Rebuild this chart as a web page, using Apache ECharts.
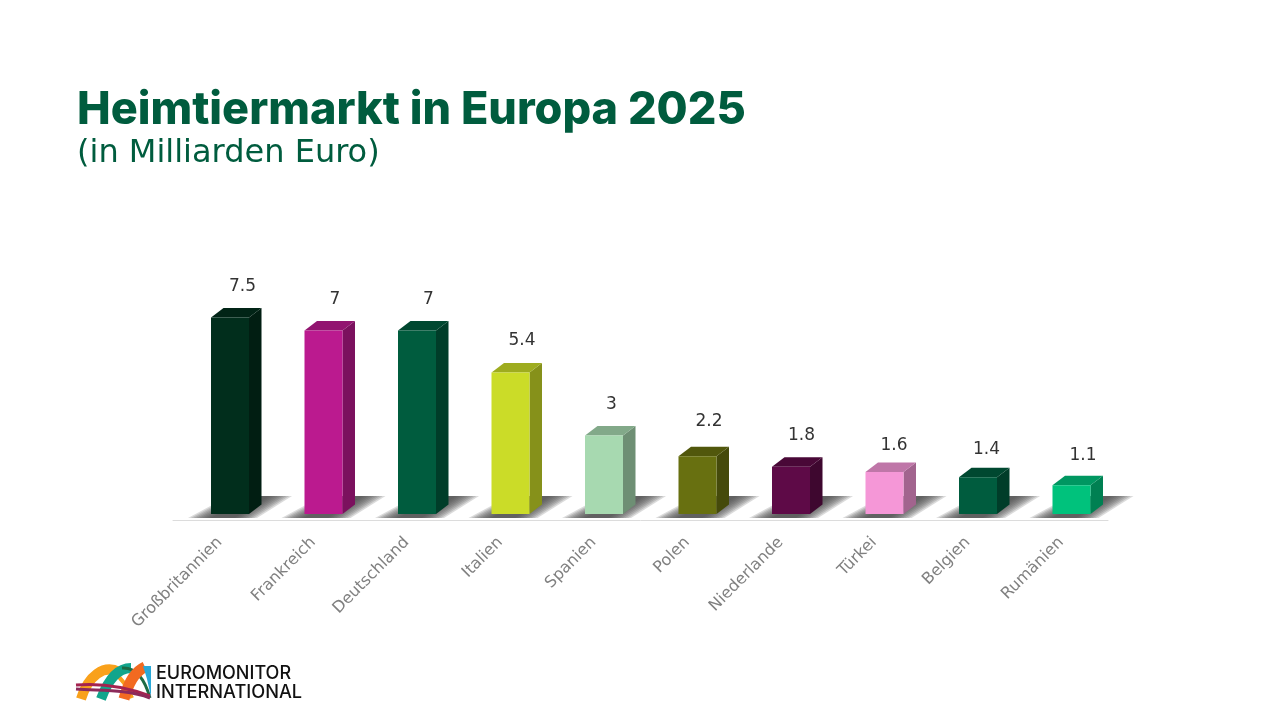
<!DOCTYPE html>
<html><head><meta charset="utf-8">
<style>html,body{margin:0;padding:0;background:#fff}#c{width:1280px;height:720px}</style>
<script src="https://cdn.jsdelivr.net/npm/echarts@6/dist/echarts.min.js"></script>
</head><body><div id="c"></div>
<script>
const categories = ['Großbritannien','Frankreich','Deutschland','Italien','Spanien','Polen','Niederlande','Türkei','Belgien','Rumänien'];
const values = [7.5,7,7,5.4,3,2.2,1.8,1.6,1.4,1.1];
const valueLabels = ['7.5','7','7','5.4','3','2.2','1.8','1.6','1.4','1.1'];
const barColors = ['#012e1c','#bb1a8f','#005c3e','#cbdc28','#a7d9b0','#687010','#5e0a47','#f597d7','#005c3e','#00c27c'];
const labelNudgeX = [1,0,0,0,-4,0,-1,-2,-3,0];
const labelNudgeY = [0,-1,-1,-1,0,-4,-1,4,3,1];
const FONT = 'DejaVu Sans';

function shade(hex,f){
  const n=parseInt(hex.slice(1),16);
  const c=[n>>16&255,n>>8&255,n&255].map(v=>Math.round(v*f));
  return 'rgb('+c.join(',')+')';
}
function renderBar(params,api){
  const i=api.value(0), v=api.value(1);
  const base=api.coord([i,0]), top=api.coord([i,v]);
  const w=38, dx=12.5, dy=9.5;
  const x0=base[0]+10.25-w/2, x1=x0+w, yT=top[1], yB=base[1];
  const col=barColors[i];
  const shadowLayers=[];
  for(let k=0;k<9;k++){
    const s=k*2.8;
    shadowLayers.push({type:'polygon',
      shape:{points:[[x0-23+s,yB+4],[x1+8-s,yB+4],[x1+43-s,yB-18],[x0+18+s,yB-18]]},
      style:{fill:'rgba(75,75,75,0.2)'}});
  }
  const side={type:'polygon',shape:{points:[[x1,yT],[x1+dx,yT-dy],[x1+dx,yB-dy],[x1,yB]]},style:{fill:shade(col,0.66)}};
  const roof={type:'polygon',shape:{points:[[x0,yT],[x0+dx,yT-dy],[x1+dx,yT-dy],[x1,yT]]},style:{fill:shade(col,0.78)}};
  const front={type:'rect',shape:{x:x0,y:yT,width:w,height:yB-yT},style:{fill:col}};
  const text={type:'text',style:{x:x0+w/2+11.5+labelNudgeX[i],y:yT-30.5+labelNudgeY[i],text:valueLabels[i],
    fill:'#333',font:'17px "'+FONT+'"',align:'center',verticalAlign:'middle'}};
  return {type:'group',children:shadowLayers.concat([side,roof,front,text])};
}
function arc(x1,y1,cpx1,cpy1,cpx2,cpy2,x2,y2,stroke,lineWidth){
  return {type:'bezierCurve',shape:{x1,y1,cpx1,cpy1,cpx2,cpy2,x2,y2},style:{fill:'none',stroke,lineWidth}};
}
const chart=echarts.init(document.getElementById('c'),null,{renderer:'canvas'});
chart.setOption({
  animation:false,
  backgroundColor:'#fff',
  title:{left:77,top:88,padding:0,itemGap:5,
    text:'Heimtiermarkt in Europa 2025',
    textStyle:{fontFamily:'Inter',fontWeight:800,fontSize:45,color:'#005c3e'},
    subtext:'(in Milliarden Euro)',
    subtextStyle:{fontFamily:FONT,fontSize:32,color:'#005c3e'}},
  grid:{left:173,width:935,top:304.4,height:215.6},
  xAxis:{type:'category',data:categories,
    axisLine:{onZero:false,lineStyle:{color:'#dcdcdc',width:1}},axisTick:{show:false},
    axisLabel:{rotate:45,interval:0,margin:20,color:'#808080',fontFamily:FONT,fontSize:16}},
  yAxis:{type:'value',min:-0.229,max:8,show:false,splitLine:{show:false}},
  series:[{type:'custom',renderItem:renderBar,clip:false,
    encode:{x:0,y:1},data:values.map((v,i)=>[i,v])}],
  graphic:[
    arc(81,699,88,676,104,664,119,672,'#f9a11b',10),
    arc(113,672,122,678,128,688,132,698,'#f9a11b',4),
    arc(101,699,108,680,118,668,131,668,'#12a58c',10),
    arc(122,668,136,667,145,680,150,698,'#1d6b45',3),
    arc(124,699,128,684,134,672,145,667,'#f26a21',11),
    {type:'polygon',shape:{points:[[143,666],[151,666],[151,697],[147,679]]},style:{fill:'#2aa9d8'}},
    arc(76,685,100,683,124,686,150,696,'#a4234f',3),
    arc(76,689,100,691,126,689,150,698,'#8c2a5a',3),
    {type:'text',style:{x:156,y:665,text:'EUROMONITOR',font:'500 18px Inter',fill:'#111'}},
    {type:'text',style:{x:156,y:684,text:'INTERNATIONAL',font:'500 18.2px Inter',fill:'#111'}}
  ]
});
</script></body></html>
